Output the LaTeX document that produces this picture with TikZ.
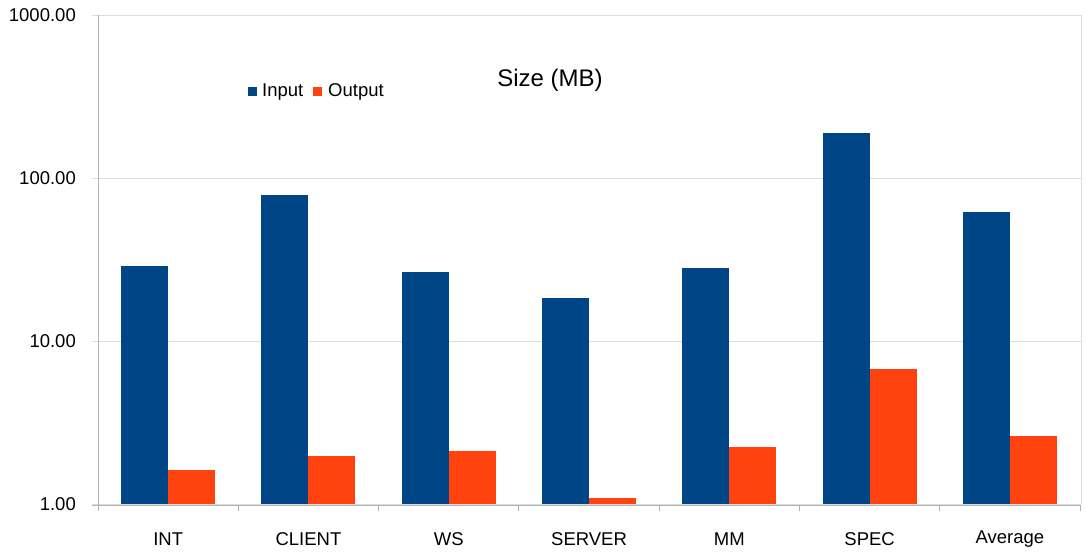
\documentclass[tikz,border=0pt]{standalone}
\usepackage{fontspec}
\setmainfont{Liberation Sans}
\definecolor{inblue}{HTML}{004586}
\definecolor{outorange}{HTML}{FF420E}
\definecolor{gridgray}{HTML}{DDDDDD}
\definecolor{axisgray}{HTML}{B3B3B3}
\tikzset{
  gridline/.style={gridgray, line width=1pt},
  axisline/.style={axisgray, line width=1pt},
  ticklabel/.style={anchor=east, inner sep=0pt, font=\fontsize{18.5}{20}\selectfont},
  catlabel/.style={anchor=center, inner sep=0pt, font=\fontsize{18.5}{20}\selectfont},
  legendtext/.style={anchor=west, inner sep=0pt, font=\fontsize{18.5}{20}\selectfont},
  titletext/.style={anchor=center, inner sep=0pt, font=\fontsize{24}{26}\selectfont},
}
% one category: index, input size, output size (MB), node name, label
\newcommand\chartpair[5]{%
  \pgfmathsetmacro\xc{98+140.3*(#1+0.5)}%
  \pgfmathsetmacro\yi{504-163*ln(#2)/ln(10)}%
  \pgfmathsetmacro\yo{504-163*ln(#3)/ln(10)}%
  \fill[inblue] (\xc-47,504) rectangle (\xc,\yi);
  \fill[outorange] (\xc,504) rectangle (\xc+47,\yo);
  \node[catlabel] (#4) at (\xc,539) {#5};
}
\begin{document}
\begin{tikzpicture}[x=1pt,y=-1pt]
\useasboundingbox[fill=white] (0,0) rectangle (1086,552);
% horizontal grid lines and value labels (log scale, one decade = 163)
\foreach \k/\lab/\nm in {0/1.00/y1,1/10.00/y10,2/100.00/y100,3/1000.00/y1000}{
  \draw[gridline] (92,504-163*\k) -- (1081,504-163*\k);
  \node[ticklabel] (\nm) at (76,504-163*\k) {\lab};
}
% plot frame
\draw[gridline] (1081,15) -- (1081,504);
\draw[axisline] (98,15) -- (98,505);
\draw[axisline] (92,505) -- (1081,505);
\foreach \k in {0,...,7}{
  \draw[axisline] (98+140.3*\k,505) -- (98+140.3*\k,511);
}
% bars
\chartpair{0}{28.9}{1.62}{cint}{INT}
\chartpair{1}{78.7}{1.97}{cclient}{CLIENT}
\chartpair{2}{26.5}{2.11}{cws}{WS}
\chartpair{3}{18.4}{1.09}{cserver}{SERVER}
\chartpair{4}{28.0}{2.24}{cmm}{MM}
\chartpair{5}{189}{6.73}{cspec}{SPEC}
\chartpair{6}{61.8}{2.61}{cavg}{Average}
% legend
\fill[inblue] (248,87) rectangle (257,96);
\node[legendtext] (linput) at (262,92) {Input};
\fill[outorange] (313,87) rectangle (322,96);
\node[legendtext] (loutput) at (328,92) {Output};
% title
\node[titletext] (title) at (550,80) {Size (MB)};
\end{tikzpicture}
\end{document}
